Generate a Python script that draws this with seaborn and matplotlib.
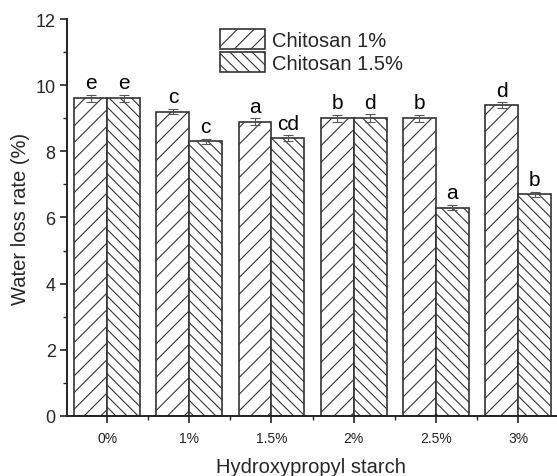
import matplotlib
matplotlib.use("Agg")
import matplotlib.pyplot as plt
import seaborn as sns
import pandas as pd
import numpy as np
from matplotlib.ticker import MultipleLocator, FixedLocator

categories = ["0%", "1%", "1.5%", "2%", "2.5%", "3%"]
series_names = ["Chitosan 1%", "Chitosan 1.5%"]
chitosan_1 = [9.6, 9.2, 8.9, 9.0, 9.0, 9.4]
chitosan_15 = [9.6, 8.3, 8.4, 9.0, 6.3, 6.7]
err_1 = [0.1, 0.08, 0.1, 0.1, 0.1, 0.08]
err_15 = [0.1, 0.08, 0.08, 0.12, 0.08, 0.08]
letters_1 = ["e", "c", "a", "b", "b", "d"]
letters_15 = ["e", "c", "cd", "d", "a", "b"]

sns.set_style("ticks")
plt.rcParams['font.family'] = ['Liberation Sans', 'DejaVu Sans']
plt.rcParams['hatch.color'] = '#707070'
plt.rcParams['hatch.linewidth'] = 0.8

df = pd.DataFrame({
    "cat": categories * 2,
    "series": [series_names[0]] * 6 + [series_names[1]] * 6,
    "val": chitosan_1 + chitosan_15,
})

fig = plt.figure(figsize=(5.57, 4.77), dpi=100)
ax = fig.add_axes([0.120, 0.126, 0.878, 0.832])
sns.barplot(data=df, x="cat", y="val", hue="series", ax=ax, width=0.8,
            palette=["white", "white"], edgecolor="#333333", linewidth=1.2,
            errorbar=None, legend=True)

hatches = ["//", "\\\\\\"]
errs = [err_1, err_15]
lets = [letters_1, letters_15]
vals = [chitosan_1, chitosan_15]
bar_containers = list(ax.containers)
for i, cont in enumerate(bar_containers):
    for j, p in enumerate(cont.patches):
        p.set_hatch(hatches[i])
        cx = p.get_x() + p.get_width() / 2
        ax.errorbar(cx, vals[i][j], yerr=errs[i][j], color="#555555",
                    capsize=3.5, elinewidth=0.8, capthick=0.8, zorder=5)
        ax.text(cx, vals[i][j] + errs[i][j] + 0.08, lets[i][j], ha="center",
                va="bottom", fontsize=15, color="black")

ax.set_ylim(0, 12)
ax.set_xlim(-0.49, 5.46)
ax.yaxis.set_major_locator(MultipleLocator(2))
ax.yaxis.set_minor_locator(MultipleLocator(1))
ax.xaxis.set_minor_locator(FixedLocator([0.5, 1.5, 2.5, 3.5, 4.5]))
ax.tick_params(axis="both", which="major", direction="out", length=5, width=1.2, color="#222222")
ax.tick_params(axis="both", which="minor", direction="out", length=3, width=1.0, color="#222222")
ax.tick_params(axis="y", labelsize=13, pad=3)
ax.tick_params(axis="x", labelsize=10, pad=6, labelcolor="#222222")
for s in ["left", "bottom"]:
    ax.spines[s].set_linewidth(1.4)
    ax.spines[s].set_color("#222222")
sns.despine(ax=ax)

ax.set_xlabel("Hydroxypropyl starch", fontsize=14.5)
ax.xaxis.label.set_va("baseline")
ax.xaxis.set_label_coords(0.5, -0.141)
ax.set_ylabel("Water loss rate (%)", fontsize=14.5, labelpad=4)

leg = ax.legend(loc="upper left", bbox_to_anchor=(0.313, 0.975), frameon=False,
                fontsize=14.5, handlelength=2.25, handleheight=1.15,
                labelspacing=0.12, handletextpad=0.35, borderpad=0.0,
                borderaxespad=0.0)
for h, hatch in zip(leg.legend_handles, hatches):
    h.set_hatch(hatch)
    h.set_edgecolor("#333333")
    h.set_facecolor("white")
    h.set_linewidth(1.2)

fig.savefig("out.png", dpi=100)
